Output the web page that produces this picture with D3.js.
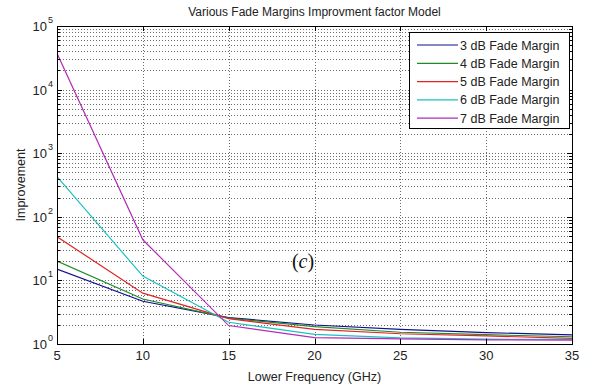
<!DOCTYPE html>
<html>
<head>
<meta charset="utf-8">
<script src="https://cdn.jsdelivr.net/npm/d3@7"></script>
<style>
  html, body { margin: 0; padding: 0; background: #fff; }
  svg { display: block; font-family: "Liberation Sans", Arial, sans-serif; }
</style>
</head>
<body>
<svg id="chart" width="597" height="385"></svg>
<script>
// data (improvement factor vs lower frequency)
const freqs = [5, 10, 15, 20, 25, 30, 35];
const fm3 = [15.1, 4.7, 2.6, 1.99, 1.70, 1.51, 1.39];
const fm4 = [20.2, 5.1, 2.55, 1.87, 1.53, 1.40, 1.30];
const fm5 = [48.6, 6.3, 2.5, 1.70, 1.45, 1.34, 1.23];
const fm6 = [427, 11.7, 2.2, 1.42, 1.25, 1.19, 1.18];
const fm7 = [37200, 43.5, 1.95, 1.26, 1.20, 1.16, 1.15];
const seriesNames = ["3 dB Fade Margin", "4 dB Fade Margin", "5 dB Fade Margin", "6 dB Fade Margin", "7 dB Fade Margin"];
const xTicks = [5, 10, 15, 20, 25, 30, 35];
const yDecades = [0, 1, 2, 3, 4, 5];

const COLORS = ["#10108c", "#1f8a2a", "#e02424", "#1cc0c0", "#b22cb8"];
const series = [fm3, fm4, fm5, fm6, fm7];

const L = 57, R = 572, T = 26, B = 344;
const svg = d3.select("#chart");

const x = d3.scaleLinear().domain([5, 35]).range([L, R]);
const y = d3.scaleLog().domain([1, 1e5]).range([B, T]);

// minor y values 2..9 per decade
const minorY = [];
yDecades.slice(0, -1).forEach(k => {
  for (let m = 2; m <= 9; m++) minorY.push(m * Math.pow(10, k));
});
const majorY = yDecades.map(k => Math.pow(10, k));

// grid (MATLAB style dotted)
const grid = svg.append("g").attr("stroke", "#6a6a6a").attr("stroke-width", 1)
  .attr("stroke-dasharray", "1,2");
grid.selectAll(".hg").data(minorY.concat(majorY.slice(1, -1))).join("line")
  .attr("x1", L).attr("x2", R)
  .attr("y1", d => Math.round(y(d)) + 0.5).attr("y2", d => Math.round(y(d)) + 0.5);
grid.selectAll(".vg").data(xTicks.slice(1, -1)).join("line")
  .attr("y1", T).attr("y2", B)
  .attr("x1", d => Math.round(x(d)) + 0.5).attr("x2", d => Math.round(x(d)) + 0.5);

// lines
svg.append("clipPath").attr("id", "clip").append("rect")
  .attr("x", L).attr("y", T).attr("width", R - L).attr("height", B - T);
const line = d3.line().x((d, i) => x(freqs[i])).y(d => y(d));
svg.append("g").attr("clip-path", "url(#clip)")
  .selectAll("path").data(series).join("path")
  .attr("d", d => line(d))
  .attr("fill", "none")
  .attr("stroke", (d, i) => COLORS[i])
  .attr("stroke-width", 1.2);

// ticks
const tk = svg.append("g").attr("stroke", "#000").attr("stroke-width", 1);
tk.selectAll(".xt").data(xTicks).join("g").each(function (d) {
  const px = Math.round(x(d)) + 0.5;
  d3.select(this).append("line").attr("x1", px).attr("x2", px).attr("y1", B).attr("y2", B - 5);
  d3.select(this).append("line").attr("x1", px).attr("x2", px).attr("y1", T).attr("y2", T + 5);
});
tk.selectAll(".yt").data(majorY).join("g").each(function (d) {
  const py = Math.round(y(d)) + 0.5;
  d3.select(this).append("line").attr("x1", L).attr("x2", L + 5).attr("y1", py).attr("y2", py);
  d3.select(this).append("line").attr("x1", R).attr("x2", R - 5).attr("y1", py).attr("y2", py);
});
tk.selectAll(".ym").data(minorY).join("g").each(function (d) {
  const py = Math.round(y(d)) + 0.5;
  d3.select(this).append("line").attr("x1", L).attr("x2", L + 3).attr("y1", py).attr("y2", py);
  d3.select(this).append("line").attr("x1", R).attr("x2", R - 3).attr("y1", py).attr("y2", py);
});

// box
svg.append("rect").attr("x", L + 0.5).attr("y", T + 0.5)
  .attr("width", R - L).attr("height", B - T)
  .attr("fill", "none").attr("stroke", "#000").attr("stroke-width", 1);

// tick labels
svg.append("g").selectAll("text").data(xTicks).join("text")
  .attr("x", d => x(d)).attr("y", 360)
  .attr("text-anchor", "middle").attr("font-size", 13).attr("fill", "#222")
  .text(d => d);

const yl = svg.append("g").attr("fill", "#222");
yDecades.forEach(k => {
  const py = y(Math.pow(10, k));
  yl.append("text").attr("x", 47).attr("y", py + 5)
    .attr("text-anchor", "end").attr("font-size", 13).text("10");
  yl.append("text").attr("x", 48).attr("y", py - 3)
    .attr("font-size", 9).text(k);
});

// title and labels
svg.append("text").attr("x", (L + R) / 2).attr("y", 16)
  .attr("text-anchor", "middle").attr("font-size", 12).attr("fill", "#222")
  .text("Various Fade Margins Improvment factor Model");
svg.append("text").attr("x", (L + R) / 2).attr("y", 381)
  .attr("text-anchor", "middle").attr("font-size", 12.5).attr("fill", "#222")
  .text("Lower Frequency (GHz)");
svg.append("text").attr("transform", `translate(25,${(T + B) / 2}) rotate(-90)`)
  .attr("text-anchor", "middle").attr("font-size", 12.5).attr("fill", "#222")
  .text("Improvement");

// (c) annotation
const ann = svg.append("text").attr("x", 303).attr("y", 268)
  .attr("text-anchor", "middle").attr("font-family", "'Liberation Serif', 'Times New Roman', serif")
  .attr("font-size", 20).attr("fill", "#111");
ann.append("tspan").text("(");
ann.append("tspan").attr("font-style", "italic").text("c");
ann.append("tspan").text(")");

// legend
const lg = svg.append("g");
lg.append("rect").attr("x", 409.5).attr("y", 32.5).attr("width", 160).attr("height", 96)
  .attr("fill", "#fff").attr("stroke", "#000").attr("stroke-width", 1);
seriesNames.forEach((name, i) => {
  const ly = 45 + i * 18.3;
  lg.append("line").attr("x1", 417).attr("x2", 458).attr("y1", ly).attr("y2", ly)
    .attr("stroke", COLORS[i]).attr("stroke-width", 1.2);
  lg.append("text").attr("x", 460).attr("y", ly + 4.5)
    .attr("font-size", 12.5).attr("fill", "#222").text(name);
});
</script>
</body>
</html>
